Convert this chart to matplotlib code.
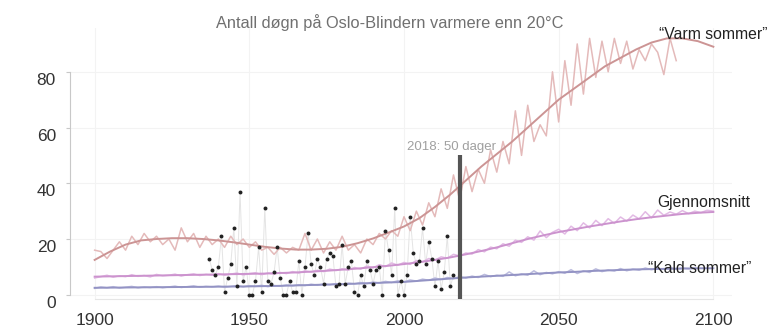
import numpy as np
import matplotlib
matplotlib.use("Agg")
import matplotlib.pyplot as plt
from matplotlib.transforms import ScaledTranslation

plt.rcParams['font.family'] = ['Liberation Sans', 'DejaVu Sans']

# smoothed scenario curves, every 5 years
smooth_years = np.arange(1900, 2101, 5)
warm_smooth = [12.5, 15.5, 18, 19.5, 20, 20.3, 20.3, 20, 19.5, 18.8,
               18, 17.2, 16.6, 16.2, 16.2, 16.5, 17.2, 18.5, 20.2, 22.3,
               24.5, 27.5, 31.5, 36, 41, 46, 50.5, 55, 60, 65,
               70, 74, 78, 82, 85, 88, 90.5, 92, 92, 91, 89]
mean_smooth = [6.5, 6.6, 6.7, 6.8, 6.9, 7.0, 7.1, 7.2, 7.3, 7.4,
               7.5, 7.6, 7.8, 8.0, 8.3, 8.6, 9.0, 9.4, 9.9, 10.4,
               11.0, 11.7, 12.5, 13.4, 14.5, 15.7, 17.0, 18.5, 20.0, 21.3,
               22.5, 23.5, 24.5, 25.4, 26.3, 27.1, 27.8, 28.4, 29.0, 29.4, 29.7]
cold_smooth = [2.5, 2.55, 2.6, 2.65, 2.7, 2.75, 2.8, 2.85, 2.9, 2.95,
               3.0, 3.1, 3.2, 3.35, 3.5, 3.65, 3.8, 4.0, 4.2, 4.4,
               4.6, 5.0, 5.4, 5.8, 6.2, 6.5, 6.8, 7.1, 7.4, 7.7,
               8.0, 8.2, 8.5, 8.7, 8.9, 9.1, 9.2, 9.3, 9.4, 9.5, 9.5]

# year-to-year scenario values, every 2 years
warm_years = np.arange(1900, 2089, 2)
warm_raw = [16, 15.5, 13, 16, 19, 16, 21, 18, 22, 19,
            21, 18, 20, 16, 24, 19, 22, 17, 21, 18,
            20, 17, 21, 18, 20, 17, 19, 16, 17, 14.5,
            17, 15, 17, 16, 22, 16, 20, 15, 19, 16,
            21, 16, 18, 15, 20, 18, 22, 20, 23, 21,
            28, 23, 30, 25, 33, 28, 38, 31, 43, 34,
            46, 37, 45, 40, 52, 44, 55, 47, 66, 50,
            68, 55, 61, 57, 80, 62, 84, 68, 90, 72,
            92, 78, 91, 80, 92, 83, 91, 81, 88, 84,
            90, 87, 79, 92, 84]

mean_years = np.arange(1900, 2101, 2)
mean_raw = [6.0, 6.5, 7.0, 6.3, 6.8, 6.5, 7.2, 6.6, 6.9, 6.4,
            7.3, 6.8, 7.0, 7.4, 6.7, 7.2, 7.5, 6.9, 7.3, 7.0,
            7.6, 7.0, 7.4, 7.8, 7.1, 7.6, 7.9, 7.2, 7.8, 7.4,
            8.0, 7.6, 8.3, 7.8, 8.6, 8.1, 8.8, 8.3, 9.2, 8.7,
            9.3, 8.8, 9.8, 9.2, 10.3, 9.6, 10.8, 10.1, 11.4, 10.6,
            11.6, 10.9, 12.3, 11.8, 13.0, 12.4, 13.6, 13.1, 14.5, 13.9,
            15.0, 14.6, 16.2, 15.4, 17.1, 16.5, 18.3, 17.4, 19.6, 18.8,
            20.8, 19.6, 22.9, 20.5, 22.4, 23.5, 21.8, 24.6, 23.0, 25.8,
            24.0, 26.7, 24.8, 27.3, 25.6, 27.9, 26.4, 28.6, 27.2, 29.8,
            27.6, 30.4, 28.5, 29.7, 28.9, 30.2, 29.1, 30.0, 29.5, 30.3,
            30.0]

cold_years = np.arange(1900, 2095, 2)
cold_raw = [2.3, 2.8, 2.5, 2.9, 2.4, 2.7, 3.0, 2.5, 2.8, 2.6,
            2.9, 2.5, 2.8, 3.1, 2.6, 2.9, 3.2, 2.7, 3.0, 2.8,
            3.1, 2.7, 3.0, 3.3, 2.8, 3.2, 3.0, 3.4, 2.9, 3.3,
            3.1, 3.5, 3.2, 3.6, 3.3, 3.8, 3.4, 3.9, 3.6, 4.0,
            3.7, 4.2, 3.9, 4.4, 4.0, 4.6, 4.2, 4.8, 4.4, 5.0,
            4.6, 5.3, 4.9, 5.6, 5.2, 6.0, 5.5, 6.2, 5.8, 6.5,
            6.0, 6.7, 6.2, 7.3, 6.5, 7.0, 6.6, 8.2, 6.8, 7.5,
            7.0, 8.6, 7.2, 8.0, 7.5, 8.3, 7.7, 9.0, 7.6, 8.6,
            8.0, 9.3, 8.3, 8.9, 8.5, 9.4, 8.6, 9.2, 8.8, 9.6,
            9.0, 9.5, 9.1, 9.8, 9.2, 9.6, 9.3, 9.7]

# observed days above 20 C at Blindern
obs_years = np.arange(1937, 2017)
obs_days = [13, 9, 7, 10, 21, 1, 6, 11, 24, 3,
            37, 5, 10, 0, 0, 5, 17, 1, 31, 5,
            4, 8, 17, 6, 0, 0, 5, 1, 1, 12,
            0, 10, 22, 11, 7, 13, 10, 4, 13, 15,
            14, 3, 4, 18, 4, 10, 12, 1, 0, 7,
            3, 12, 9, 4, 9, 10, 0, 23, 16, 7,
            31, 0, 5, 0, 7, 28, 15, 11, 12, 24,
            11, 19, 13, 3, 12, 2, 8, 21, 3, 7]

mark_year = 2018
mark_days = 50

fig = plt.figure(figsize=(7.68, 3.34), dpi=100)
ax = fig.add_axes([0.091, 0.105, 0.862, 0.811])

# warm / mean / cold scenarios: thin raw line plus a smooth trend
ax.plot(warm_years, warm_raw, color='#e4baba', lw=1.1, zorder=2)
ax.plot(smooth_years, warm_smooth, color='#cc9494', lw=1.4, zorder=3)
ax.plot(mean_years, mean_raw, color='#e2bae4', lw=1.1, zorder=2)
ax.plot(smooth_years, mean_smooth, color='#cc93ce', lw=1.4, zorder=3)
ax.plot(cold_years, cold_raw, color='#bcbcde', lw=1.1, zorder=2)
ax.plot(smooth_years, cold_smooth, color='#9393c4', lw=1.4, zorder=3)

ax.plot(obs_years, obs_days, color='#e4e4e4', lw=0.7, zorder=1)
ax.scatter(obs_years, obs_days, s=8, color='#222222', zorder=4, linewidths=0)

ax.vlines(mark_year, -1.5, mark_days, color='#555555', lw=3, zorder=5)
ax.text(mark_year - 2.5, mark_days + 1, f"{mark_year}: {mark_days} dager",
        ha='center', va='bottom', fontsize=9.5, color='#a0a0a0', zorder=6)

ax.text(2100, 93.5, "\u201cVarm sommer\u201d", ha='center', va='center',
        fontsize=11.3, color='#222222', zorder=6)
ax.text(2097, 33, "Gjennomsnitt", ha='center', va='center',
        fontsize=11.3, color='#222222', zorder=6)
ax.text(2095.5, 9.3, "\u201cKald sommer\u201d", ha='center', va='center',
        fontsize=11.3, color='#222222', zorder=6)

ax.set_xlim(1892, 2106)
ax.set_ylim(-1.5, 95.7)
ax.set_xticks([1900, 1950, 2000, 2050, 2100])
ax.set_yticks([0, 20, 40, 60, 80])
ax.grid(True, color='#f3f3f3', lw=0.8, zorder=0)
ax.set_axisbelow(True)

for side in ['top', 'right']:
    ax.spines[side].set_visible(False)
ax.spines['left'].set_bounds(0, 80)
ax.spines['left'].set_color('#c8c8c8')
ax.spines['bottom'].set_bounds(1900, 2100)
ax.spines['bottom'].set_color('#e6e6e6')
ax.tick_params(axis='y', length=3, color='#c8c8c8', pad=7,
               labelsize=12.5, labelcolor='#333333')
ax.tick_params(axis='x', length=0, pad=10, labelsize=12.5, labelcolor='#333333')
for lab in ax.get_yticklabels():
    lab.set_transform(lab.get_transform() + ScaledTranslation(0, -0.07, fig.dpi_scale_trans))

fig.text(0.508, 0.934, "Antall døgn på Oslo-Blindern varmere enn 20°C",
         ha='center', va='center', fontsize=11.8, color='#707070')

fig.savefig("out.png", dpi=100)
